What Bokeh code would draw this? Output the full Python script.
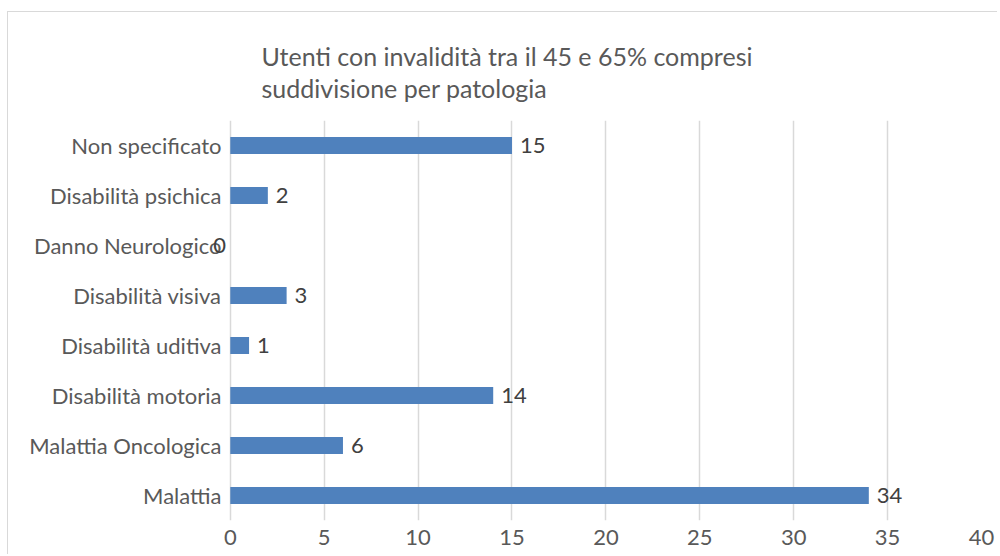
from bokeh.plotting import figure
from bokeh.models import ColumnDataSource, FactorRange, Range1d, FixedTicker, LabelSet
from bokeh.embed import file_html
from bokeh.resources import INLINE
from bokeh.core.properties import value

categories = ["Malattia", "Malattia Oncologica", "Disabilità motoria",
              "Disabilità uditiva", "Disabilità visiva", "Danno Neurologico",
              "Disabilità psichica", "Non specificato"]
counts = [34, 6, 14, 1, 3, 0, 2, 15]
x_ticks = [0, 5, 10, 15, 20, 25, 30, 35, 40]
title_text = "Utenti con invalidità tra il 45 e 65% compresi\nsuddivisione per patologia"

FONT = "Lato"
W, H = 990, 543

src = ColumnDataSource(dict(
    cat=categories,
    val=counts,
    lab=[str(v) for v in counts],
    off=[8 if v > 0 else -17 for v in counts],
))

# a little blank room left of 0 so that the "0" label (drawn left of the
# axis, overlapping the category name as in the original) is not clipped
p = figure(width=W, height=H, output_backend="svg", toolbar_location=None,
           y_range=FactorRange(factors=categories), x_range=Range1d(-1, 40),
           min_border_left=203, min_border_right=17, min_border_top=108,
           min_border_bottom=35, title=title_text)
p.styles = {"border-top": "1px solid #d9d9d9", "border-left": "1px solid #d9d9d9",
            "margin-top": "11px", "margin-left": "7px"}

p.hbar(y="cat", right="val", left=0, height=0.34, source=src,
       fill_color="#4f81bd", line_color=None)
labels = LabelSet(x="val", y="cat", text="lab", source=src, x_offset="off",
                  text_font=value(FONT), text_font_size=value("22px"),
                  text_color="#404040", text_baseline="middle", text_align="left")
p.add_layout(labels)

p.outline_line_color = None
p.background_fill_color = None
p.border_fill_color = "white"

p.title.text_font = FONT
p.title.text_font_size = "25px"
p.title.text_font_style = "normal"
p.title.text_color = "#595959"
p.title.text_line_height = 1.05
p.title.align = "left"
p.title.offset = 50
p.title.standoff = 36

p.xaxis.ticker = FixedTicker(ticks=x_ticks)
p.xaxis.axis_line_color = None
p.xaxis.major_tick_line_color = None
p.xaxis.minor_tick_line_color = None
p.xaxis.major_label_text_font = FONT
p.xaxis.major_label_text_font_size = "22px"
p.xaxis.major_label_text_color = "#595959"
p.xaxis.major_label_standoff = 3

p.yaxis.axis_line_color = None
p.yaxis.major_tick_line_color = None
p.yaxis.major_label_text_font = FONT
p.yaxis.major_label_text_font_size = "22px"
p.yaxis.major_label_text_color = "#595959"
p.yaxis.major_label_standoff = -16

p.xgrid.grid_line_color = "#d9d9d9"
p.xgrid.grid_line_width = 1.5
p.ygrid.grid_line_color = None

open("out.html", "w").write(file_html(p, INLINE))
